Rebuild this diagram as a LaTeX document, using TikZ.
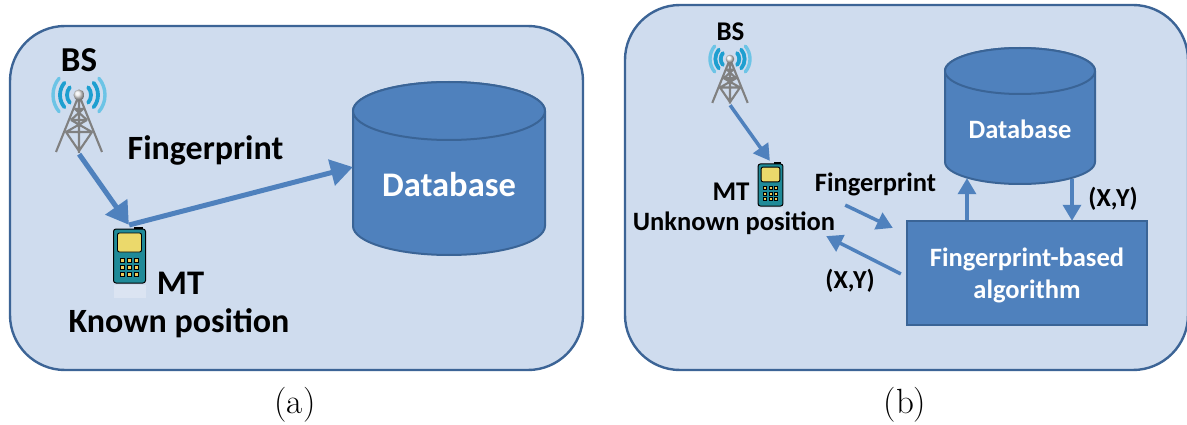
\documentclass[tikz,border=0pt]{standalone}
\usepackage{fontspec}
\setmainfont{Carlito}
\newfontfamily\capfont{Latin Modern Roman}
\usetikzlibrary{arrows.meta,calc}
\definecolor{panelfill}{HTML}{CFDCEE}
\definecolor{paneledge}{HTML}{3C6496}
\definecolor{dbfill}{HTML}{4F81BD}
\definecolor{dbedge}{HTML}{3A6496}
\definecolor{wave}{HTML}{1E9FD0}
\definecolor{wavelight}{HTML}{6CC4E6}
\definecolor{towergray}{HTML}{808080}
\definecolor{phonebody}{HTML}{1F8A98}
\definecolor{phonescreen}{HTML}{EBD96B}
\tikzset{
  x=1pt,y=-1pt,
  panel/.style={draw=paneledge,line width=2.4pt,fill=panelfill},
  dbbody/.style={draw=dbedge,line width=2pt,fill=dbfill},
  flowbig/.style={draw=dbfill,line width=5pt,-{Triangle[length=22pt,width=26pt]}},
  flowsmall/.style={draw=dbfill,line width=3.5pt,-{Triangle[length=16pt,width=18pt]}},
  lbl/.style={text=black,inner sep=0pt},
  dbtext/.style={text=white,inner sep=0pt},
  anchorbox/.style={inner sep=0pt,minimum size=0pt},
  caption/.style={font=\capfont\fontsize{35}{40}\selectfont,text=black,inner sep=0pt},
  pics/tower/.style={code={
    \foreach \r/\c/\w in {12/wave/3.8,19/wave/3.8,26/wavelight/3.4}{
      \draw[\c,line width=\w pt,line cap=round] (-\r*0.766,-\r*0.643) arc[start angle=220,end angle=140,radius=\r];
      \draw[\c,line width=\w pt,line cap=round] (\r*0.766,-\r*0.643) arc[start angle=-40,end angle=40,radius=\r];
    }
    \draw[towergray,line width=2.1pt,line join=round]
      (0,0) -- (-23,57) (0,0) -- (23,57) (0,0) -- (0,58)
      (-4,14) -- (4,14) (-8,25) -- (8,25) (-13,37) -- (13,37)
      (-4,14) -- (8,25) (4,14) -- (-8,25) (-8,25) -- (13,37) (8,25) -- (-13,37)
      (-13,37) -- (0,56) (13,37) -- (0,56);
    \shade[ball color=white!85!gray] (0,0) circle[radius=5.5];
  }},
  pics/phone/.style={code={
    \fill[black] (4,-29) rectangle (13,-26);
    \fill[white,opacity=.25] (-16,29) rectangle (16,42);
    \draw[black,line width=1pt,fill=phonebody,rounded corners=2.5pt] (-16,-27) rectangle (16,27);
    \draw[black,line width=.9pt,fill=phonescreen,rounded corners=2pt] (-12,-23) rectangle (12,-4);
    \foreach \yy in {4,11,18}{\foreach \xx in {-7,0,7}{
      \draw[black,line width=.7pt,fill=phonescreen!85!orange] (\xx-2,\yy-2) rectangle (\xx+2,\yy+2);
    }}
  }}
}
\begin{document}
\begin{tikzpicture}
\useasboundingbox (0,0) rectangle (1187,425);
\fill[white] (0,0) rectangle (1187,425);
\clip (0,0) rectangle (1187,425);
% Panels
\draw[panel,rounded corners=55pt] (10,26) rectangle (583,370);
\draw[panel,rounded corners=55pt] (625,5) rectangle (1188,370);

% --- (a)
\node[lbl,font=\bfseries\fontsize{35}{38}\selectfont] (bsA) at (79,60) {BS};
\path (79,95) pic {tower};
\node[anchorbox] (towerA) at (79,154) {};
\path (129.5,256) pic {phone};
\node[anchorbox] (mtA) at (129,225) {};
\node[lbl,font=\bfseries\fontsize{34.5}{38}\selectfont] (mtAl) at (180.5,283) {MT};
\node[lbl,font=\bfseries\fontsize{34}{38}\selectfont] (knownA) at (179,323) {Known position};
\node[lbl,font=\bfseries\fontsize{34}{38}\selectfont] (fpA) at (205.5,150) {Fingerprint};
% database a
\path[dbbody] (353,111) -- (353,226) arc[start angle=180,end angle=0,x radius=96,y radius=29] -- (545,111) arc[start angle=0,end angle=-180,x radius=96,y radius=29];
\draw[dbbody] (449,111) ellipse[x radius=96,y radius=29];
\node[dbtext,font=\bfseries\fontsize{34.5}{38}\selectfont] (dbA) at (449,185) {Database};
\node[anchorbox] (dbAin) at (353,167) {};
\draw[flowbig] (towerA) -- (mtA);
\draw[flowbig] (mtA) -- (dbAin);

% --- (b)
\node[lbl,font=\bfseries\fontsize{27}{30}\selectfont] (bsB) at (730.5,32) {BS};
\path (730,59) pic[scale=.77] {tower};
\node[anchorbox] (towerB) at (730,105) {};
\path (770.5,185) pic[scale=.78] {phone};
\node[anchorbox] (mtB) at (770,161) {};
\node[lbl,font=\bfseries\fontsize{27}{30}\selectfont] (mtBl) at (731,192) {MT};
\node[lbl,font=\bfseries\fontsize{26.5}{30}\selectfont] (unkB) at (734,223) {Unknown position};
\node[lbl,font=\bfseries\fontsize{26.5}{30}\selectfont] (fpB) at (875.5,184) {Fingerprint};
% database b
\path[dbbody] (945,71) -- (945,162) arc[start angle=180,end angle=0,x radius=75,y radius=22] -- (1095,71) arc[start angle=0,end angle=-180,x radius=75,y radius=23];
\draw[dbbody] (1020,71) ellipse[x radius=75,y radius=23];
\node[dbtext,font=\bfseries\fontsize{26.5}{30}\selectfont] (dbB) at (1020,129) {Database};
% algorithm box
\node[draw=dbedge,line width=2pt,fill=dbfill,minimum width=240pt,minimum height=104pt,inner sep=0pt] (algo) at (1027,273) {};
\node[dbtext,align=center,font=\bfseries\fontsize{26.5}{32}\selectfont] (algoText) at (1027,275) {Fingerprint-based\\algorithm};
\node[lbl,font=\bfseries\fontsize{26}{30}\selectfont] (xyR) at (1113,199) {(X,Y)};
\node[lbl,font=\bfseries\fontsize{26}{30}\selectfont] (xyL) at (850,281) {(X,Y)};
\draw[flowsmall] (towerB) -- (mtB);
\node[anchorbox] (upS) at (967,220) {};
\node[anchorbox] (upE) at (967,178) {};
\node[anchorbox] (dnS) at (1072,179) {};
\node[anchorbox] (dnE) at (1072,221) {};
\draw[flowsmall] (upS) -- (upE);
\draw[flowsmall] (dnS) -- (dnE);
\node[anchorbox] (fpS) at (845,205) {};
\node[anchorbox] (fpE) at (893,228) {};
\node[anchorbox] (xyS) at (901,274) {};
\node[anchorbox] (xyE) at (826,236) {};
\draw[flowsmall] (fpS) -- (fpE);
\draw[flowsmall] (xyS) -- (xyE);

% captions
\node[caption] (capA) at (295,405) {(a)};
\node[caption] (capB) at (905,405) {(b)};
\end{tikzpicture}
\end{document}
